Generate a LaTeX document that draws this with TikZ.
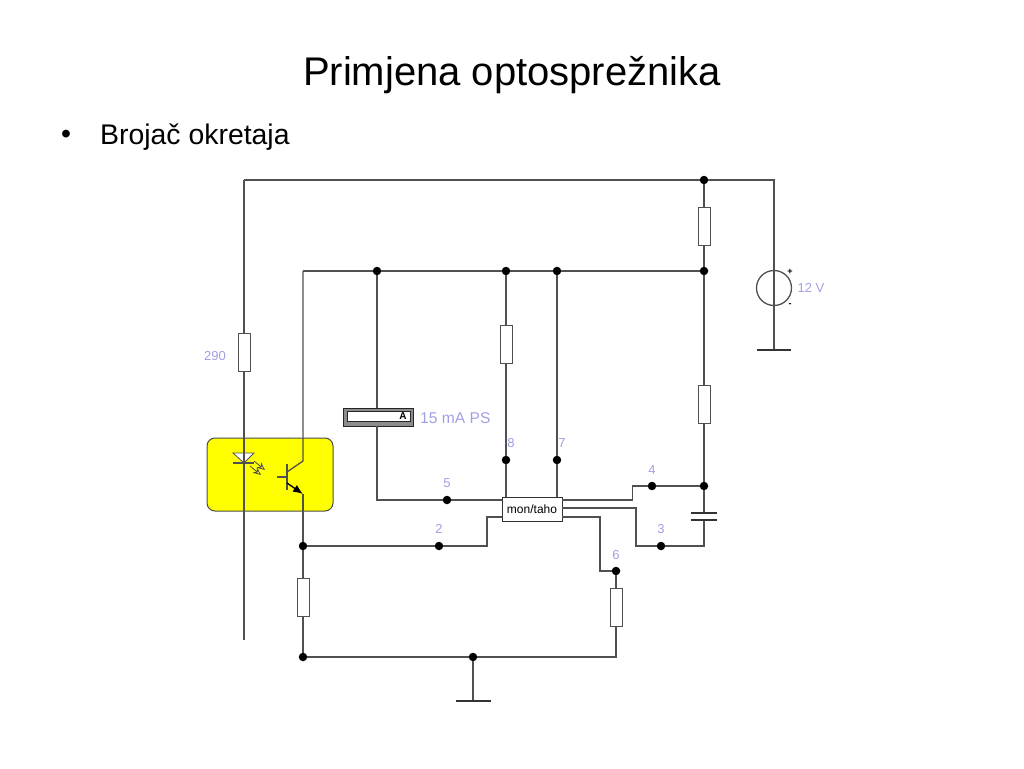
\documentclass[tikz,border=0pt]{standalone}
\usepackage{fontspec}
\setmainfont{Liberation Sans}
\usepackage{xcolor}
\definecolor{wirecol}{RGB}{80,80,80}
\definecolor{labelcol}{RGB}{160,160,228}
\definecolor{optocol}{RGB}{255,255,0}
\usetikzlibrary{arrows.meta}

\begin{document}
\begin{tikzpicture}[
		x=1pt, y=-1pt,
		wire/.style={draw=wirecol, line width=1.3pt},
		res/.style={rectangle, draw=wirecol, line width=1pt, fill=white, minimum width=12pt, minimum height=38pt, inner sep=0pt},
		dot/.style={circle, fill=black, minimum size=8.5pt, inner sep=0pt},
		lbl/.style={text=labelcol, font=\fontsize{13}{15}\selectfont, inner sep=0pt},
		bar/.style={draw=black!80, line width=1.6pt},
		optobox/.style={rectangle, rounded corners=8pt, draw=black!70, line width=1pt, fill=optocol, minimum width=126pt, minimum height=73pt, inner sep=0pt},
		ledarrow/.style={-{Stealth[open, length=8pt, width=7pt]}, draw=black!70, line width=0.8pt}
	]
	\useasboundingbox (0,0) rectangle (1024,768);

	% Title
	\node[font=\fontsize{40}{44}\selectfont, inner sep=0pt] (title) at (512,75.5) {Primjena optosprežnika};
	\node[font=\fontsize{28.4}{32}\selectfont, inner sep=0pt] (bullet) at (66,137) {•};
	\node[font=\fontsize{28.4}{32}\selectfont, inner sep=0pt, anchor=west] (sub) at (100,137) {Brojač okretaja};

	% Optocoupler
	\node[optobox] (opto) at (270,474.5) {};

	% Top rail
	\coordinate (tl) at (244,180);
	\coordinate (tr) at (774,180);
	\node[dot] (jtop) at (704,180) {};
	\node[res] (r1) at (704,226) {};
	\node[dot] (jvcc) at (704,271) {};
	\node[dot] (ja) at (377,271) {};
	\node[dot] (jb) at (506,271) {};
	\node[dot] (jc) at (557,271) {};
	\coordinate (tc) at (303,271);

	% Source
	\node[circle, draw=wirecol, line width=1.3pt, minimum size=35pt, inner sep=0pt] (src) at (774,288) {};
	\coordinate (gnda) at (774,350);
	\coordinate (gndal) at (757,350);
	\coordinate (gndar) at (791,350);
	\node[font=\fontsize{9}{10}\selectfont\bfseries, inner sep=0pt] (plus) at (790,272) {+};
	\node[font=\fontsize{9}{10}\selectfont\bfseries, inner sep=0pt] (minus) at (790,305) {-};
	\node[lbl] (u) at (811,288) {12 V};

	% Chip
	\node[rectangle, draw=black!80, line width=0.9pt, fill=white, minimum width=60pt, minimum height=24pt, inner sep=0pt, font=\fontsize{12}{14}\selectfont] (chip) at (532,509) {mon/taho};
	\coordinate (c8) at (506,497);
	\coordinate (c7) at (557,497);
	\coordinate (c5) at (502,500);
	\coordinate (c2) at (502,517);
	\coordinate (c4) at (562,500);
	\coordinate (c3) at (562,508);
	\coordinate (c6) at (562,517);

	% Pins
	\node[dot] (p5) at (447,500) {};
	\node[dot] (p8) at (506,460) {};
	\node[dot] (p7) at (557,460) {};
	\node[dot] (p4) at (652,486) {};
	\node[dot] (p3) at (661,546) {};
	\node[dot] (p2) at (439,546) {};
	\node[dot] (p6) at (616,571) {};
	\node[lbl] (l5) at (447,483) {5};
	\node[lbl] (l8) at (511,443) {8};
	\node[lbl] (l7) at (562,443) {7};
	\node[lbl] (l4) at (652,470) {4};
	\node[lbl] (l3) at (661,529) {3};
	\node[lbl] (l2) at (439,529) {2};
	\node[lbl] (l6) at (616,555) {6};

	% Other parts
	\node[res] (r2) at (506,344) {};
	\node[res] (r3) at (704,404) {};
	\node[res] (r4) at (244,352) {};
	\node[lbl] (l290) at (215,356) {290};
	\node[res] (r5) at (303,597) {};
	\node[res] (r6) at (616,607) {};
	\node[dot] (j4) at (704,486) {};
	\node[dot] (je) at (303,546) {};
	\node[dot] (jg) at (303,657) {};
	\node[dot] (jh) at (473,657) {};
	\coordinate (capa) at (704,513);
	\coordinate (capb) at (704,520);
	\coordinate (capc) at (704,546);
	\coordinate (bl) at (244,640);
	\coordinate (gndb) at (473,701);
	\coordinate (gndbl) at (456,701);
	\coordinate (gndbr) at (491,701);
	\coordinate (br) at (616,657);

	% Ammeter
	\node[rectangle, draw=black!85, line width=1pt, fill=black!45, minimum width=70pt, minimum height=18pt, inner sep=0pt] (amp) at (378,417) {};
	\node[rectangle, draw=black!85, line width=0.6pt, fill=white, minimum width=63pt, minimum height=10pt, inner sep=0pt, anchor=north west] (ampin) at (346.5,411) {};
	\node[font=\fontsize{10}{11}\selectfont\bfseries, inner sep=0pt] (ampa) at (403,416.5) {A};
	\node[lbl, font=\fontsize{15.6}{18}\selectfont, anchor=west] (ampl) at (420,418) {15 mA PS};
	\coordinate (ampt) at (377,408);
	\coordinate (ampb) at (377,426);
	\coordinate (ampc) at (377,500);

	% Transistor
	\coordinate (tcol) at (303,461);
	\coordinate (tbc) at (287,472);
	\coordinate (tbe) at (287,483);
	\coordinate (tem) at (303,494);
	\coordinate (tbt) at (287,464);
	\coordinate (tbb) at (287,490);
	\coordinate (tbi) at (277,477);
	\coordinate (tbm) at (287,477);

	% LED
	\coordinate (ledl) at (233,453);
	\coordinate (ledr) at (254,453);
	\coordinate (ledm) at (244,453);
	\coordinate (leda) at (244,463);
	\coordinate (ledbl) at (233,463);
	\coordinate (ledbr) at (254,463);
	\coordinate (la1) at (254,461);
	\coordinate (la2) at (265,470);
	\coordinate (lb1) at (250,466);
	\coordinate (lb2) at (261,475);

	% Wires
	\draw[wire] (tl) -- (r4) -- (bl);
	\draw[wire] (tl) -- (jtop) -- (tr) -- (gnda);
	\draw[wire] (jtop) -- (r1) -- (jvcc);
	\draw[wire] (tc) -- (ja) -- (jb) -- (jc) -- (jvcc);
	\draw[wire] (jvcc) -- (r3) -- (j4) -- (capa);
	\draw[wire] (ja) -- (ampt);
	\draw[wire] (ampb) -- (ampc) -- (p5) -- (c5);
	\draw[wire] (jb) -- (r2) -- (p8) -- (c8);
	\draw[wire] (jc) -- (p7) -- (c7);
	\draw[wire] (c4) -- (632.5,500) -- (632.5,486) -- (p4) -- (j4);
	\draw[wire] (c3) -- (636,508) -- (636,546) -- (p3) -- (capc) -- (capb);
	\draw[wire] (c6) -- (600,517) -- (600,571) -- (p6) -- (r6) -- (br) -- (jh);
	\draw[wire] (c2) -- (487,517) -- (487,546) -- (p2) -- (je);
	\draw[wire] (tc) -- (tcol) -- (tbc);
	\draw[wire] (tem) -- (je) -- (r5) -- (jg) -- (jh) -- (gndb);

	% Symbol details
	\draw[bar] (gndal) -- (gndar);
	\draw[bar] (gndbl) -- (gndbr);
	\draw[bar] (691,513) -- (717,513);
	\draw[bar] (691,520) -- (717,520);
	\draw[wire, fill=white, line width=0.8pt] (ledl) -- (ledr) -- (leda) -- cycle;
	\draw[wire] (ledbl) -- (ledbr);
	\draw[wire] (ledm) -- (leda);
	\draw[ledarrow] (la1) -- (la2);
	\draw[ledarrow] (lb1) -- (lb2);
	\draw[wire] (tbt) -- (tbb);
	\draw[wire] (tbi) -- (tbm);
	\draw[wire, -{Latex[length=10pt, width=8pt]}, draw=black] (tbe) -- (tem);
\end{tikzpicture}
\end{document}
